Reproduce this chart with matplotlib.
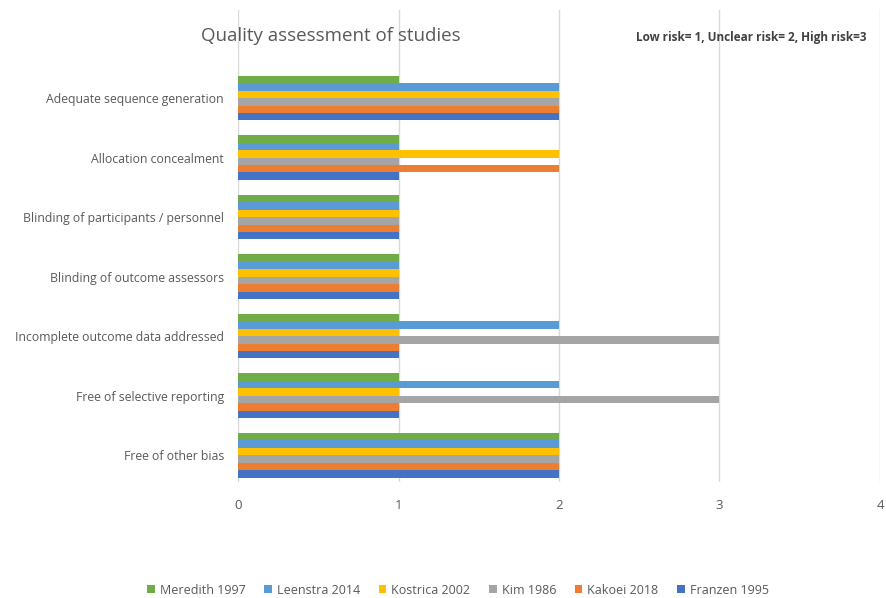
import matplotlib
matplotlib.use("Agg")
import matplotlib.pyplot as plt
import numpy as np

categories = ["Adequate sequence generation", "Allocation concealment",
              "Blinding of participants / personnel", "Blinding of outcome assessors",
              "Incomplete outcome data addressed", "Free of selective reporting",
              "Free of other bias"]
series_names = ["Meredith 1997", "Leenstra 2014", "Kostrica 2002", "Kim 1986", "Kakoei 2018", "Franzen 1995"]
meredith = [1, 1, 1, 1, 1, 1, 2]
leenstra = [2, 1, 1, 1, 2, 2, 2]
kostrica = [2, 2, 1, 1, 1, 1, 2]
kim = [2, 1, 1, 1, 3, 3, 2]
kakoei = [2, 2, 1, 1, 1, 1, 2]
franzen = [2, 1, 1, 1, 1, 1, 2]
colors = ["#70AD47", "#5B9BD5", "#FFC000", "#A5A5A5", "#ED7D31", "#4472C4"]
xticks = [0, 1, 2, 3, 4]

plt.rcParams['font.family'] = ['Open Sans', 'DejaVu Sans']
txt = "#595959"

fig = plt.figure(figsize=(8.87, 5.98), dpi=100)
ax = fig.add_axes([238/887, 1-482/598, (880-238)/887, (482-10)/598])

data = [meredith, leenstra, kostrica, kim, kakoei, franzen]
y = np.arange(len(categories))
bh = 0.125
for j, (vals, c, name) in enumerate(zip(data, colors, series_names)):
    offs = (j - 2.5) * bh
    ax.barh(y + offs, vals, height=bh, color=c, label=name, zorder=3)

ax.set_xlim(0, 4)
ax.set_ylim(6.45, -1.48)
ax.set_yticks(y)
ax.set_yticklabels(categories, fontsize=8.8, color=txt)
ax.set_xticks(xticks)
ax.set_xticklabels([str(t) for t in xticks], fontsize=9.5, color=txt)
ax.tick_params(axis='x', length=0, pad=12)
ax.tick_params(axis='y', length=0, pad=10)
ax.grid(axis='x', color="#D9D9D9", linewidth=1, zorder=0)
for s in ax.spines.values():
    s.set_visible(False)

fig.text(331/887, 1-36/598, "Quality assessment of studies", fontsize=13.5, color=txt,
         ha='center', va='center')
fig.text(751/887, 1-38/598, "Low risk= 1, Unclear risk= 2, High risk=3", fontsize=8.5,
         color="#404040", fontweight='bold', ha='center', va='center')

h, l = ax.get_legend_handles_labels()
fig.legend(h, l, loc='center', bbox_to_anchor=(458/887, 1-590/598), ncol=6, frameon=False,
           fontsize=9, handlelength=0.6, handleheight=0.6, columnspacing=1.5, handletextpad=0.4,
           labelcolor=txt)

fig.savefig("out.png", dpi=100)
